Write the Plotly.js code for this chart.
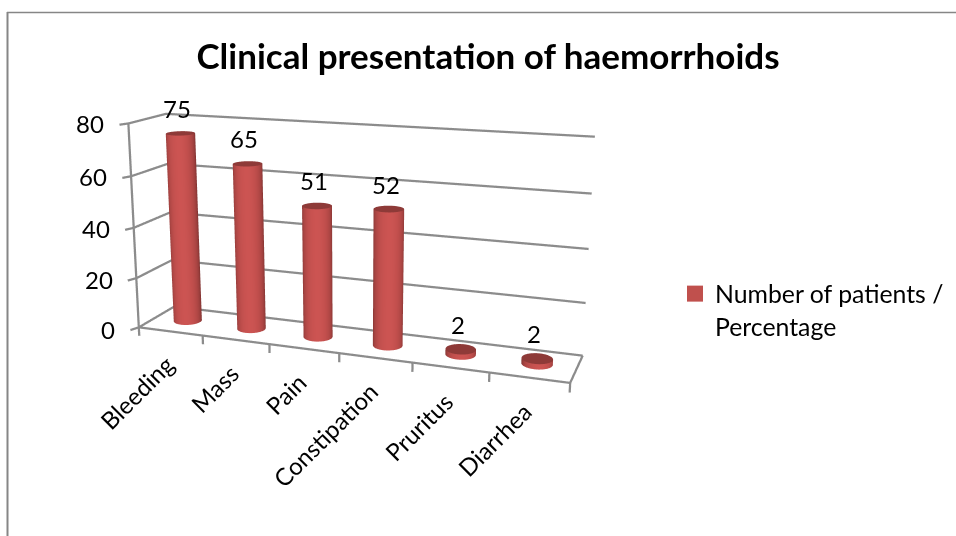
<!DOCTYPE html>
<html>
<head>
<meta charset="utf-8">
<script src="https://cdn.plot.ly/plotly-3.0.1.min.js"></script>
<style>
html,body{margin:0;padding:0;background:#fff;overflow:hidden;width:956px;height:536px}
#wrap{position:absolute;left:0;top:0;width:956px;height:536px;overflow:hidden}
#chart{position:absolute;left:0;top:-212px;width:956px;height:900px}
</style>
</head>
<body>
<div id="wrap"><div id="chart"></div></div>
<script>
const categories = ['Bleeding','Mass','Pain','Constipation','Pruritus','Diarrhea'];
const values = [75,65,51,52,2,2];
const seriesName = 'Number of patients /<br>Percentage';
const zTicks = [0,20,40,60,80];
const chartTitle = 'Clinical presentation of haemorrhoids';

const TOP = -212, H = 900, W = 956;
const px = x => x / W;
const py = y => 1 - (y - TOP) / H;

const FONT = 'Lato, Carlito, sans-serif';
const GRID = '#8c8c8c';
const xr = [-0.4, 6.4], yr = [-0.4, 1.4], zr = [-10, 90];
const worldW = 2, worldD = 0.3342, worldH = 0.9554;
const aspect = {
  x: worldW * (xr[1]-xr[0]) / 6,
  y: worldD * (yr[1]-yr[0]),
  z: worldH * (zr[1]-zr[0]) / 80
};
const camera = {eye:{x:1.5904,y:-4.336,z:1.1775}, center:{x:0,y:0,z:0}, up:{x:0,y:0,z:1}};

const rWorld = 0.066;
const rx = rWorld / (worldW/6), ry = rWorld / worldD;
const viewAngle = Math.atan2(camera.eye.y, camera.eye.x);

function mix(a,b,t){
  const c = a.map((v,i)=>Math.round(v+(b[i]-v)*t));
  return `rgb(${c[0]},${c[1]},${c[2]})`;
}
const DARK=[122,48,46], BRIGHT=[204,84,82], CAP=[142,58,56];

function cylinder(i, v){
  const n = 48, cx = i+0.5, cy = 0.5;
  const X=[],Y=[],Z=[],I=[],J=[],K=[],C=[];
  for(let k=0;k<=n;k++){
    const t = k/n*2*Math.PI;
    const s = Math.max(0, Math.cos(t - viewAngle));
    const col = mix(DARK, BRIGHT, Math.pow(s,0.8));
    X.push(cx+rx*Math.cos(t), cx+rx*Math.cos(t));
    Y.push(cy+ry*Math.sin(t), cy+ry*Math.sin(t));
    Z.push(0, v);
    C.push(col,col);
    if(k<n){
      const a=2*k,b=2*k+1,c=2*k+2,d=2*k+3;
      I.push(a,b); J.push(c,c); K.push(b,d);
    }
  }
  const base = X.length;
  X.push(cx); Y.push(cy); Z.push(v); C.push(mix(CAP,CAP,0));
  for(let k=0;k<=n;k++){
    const t=k/n*2*Math.PI;
    X.push(cx+rx*Math.cos(t)); Y.push(cy+ry*Math.sin(t)); Z.push(v); C.push(mix(CAP,CAP,0));
    if(k<n){ I.push(base); J.push(base+1+k); K.push(base+2+k); }
  }
  return {type:'mesh3d',x:X,y:Y,z:Z,i:I,j:J,k:K,vertexcolor:C,flatshading:false,
    lighting:{ambient:1,diffuse:0,specular:0,roughness:1,fresnel:0},
    hoverinfo:'skip',showlegend:false,showscale:false};
}

function polyline(pts){
  return {type:'scatter3d',mode:'lines',x:pts.map(p=>p[0]),y:pts.map(p=>p[1]),z:pts.map(p=>p[2]),
    line:{color:GRID,width:4.5},hoverinfo:'skip',showlegend:false};
}
const n = categories.length;
const traces = [];
zTicks.forEach(z=>{
  traces.push(polyline([[-0.05,-0.14,z],[0,0,z],[0,1,z],[n,1,z]]));
});
traces.push(polyline([[0,0,0],[0,0,zTicks[zTicks.length-1]]]));
traces.push(polyline([[0,0,0],[n,0,0],[n,1,0]]));
for(let i=0;i<=n;i++) traces.push(polyline([[i,0,0],[i,0,-3.5]]));
categories.forEach((c,i)=>traces.push(cylinder(i,values[i])));
traces.push({type:'scatter3d',mode:'markers',x:[null],y:[null],z:[null],name:seriesName,
  marker:{symbol:'square',color:'#c0504d',size:16},showlegend:true,hoverinfo:'skip'});

const sceneAnn = [];
values.forEach((v,i)=>sceneAnn.push({x:i+0.5,y:0.5,z:v,text:String(v),showarrow:false,
  xshift:-3,yshift:25,font:{family:FONT,size:24,color:'#000'}}));
categories.forEach((c,i)=>sceneAnn.push({x:i+0.5,y:0,z:-3.5,text:c,showarrow:false,textangle:-45,
  xanchor:'right',yanchor:'top',xshift:11,yshift:-7,font:{family:FONT,size:24,color:'#000'}}));
zTicks.forEach(z=>sceneAnn.push({x:-0.05,y:-0.14,z:z,text:String(z),showarrow:false,
  xanchor:'right',xshift:-13,yshift:1,font:{family:FONT,size:24,color:'#000'}}));

const hidden = r=>({visible:false,range:r,autorange:false,showspikes:false});
const layout = {
  width:W,height:H,autosize:false,
  margin:{l:0,r:0,t:0,b:0},
  paper_bgcolor:'#fff',
  title:{text:'<b>'+chartTitle+'</b>',x:px(488),xanchor:'center',y:py(57),yanchor:'middle',
    font:{family:FONT,size:35,color:'#000'}},
  scene:{domain:{x:[0,704.8/956],y:[0,1]},
    aspectmode:'manual',aspectratio:aspect,camera:camera,
    xaxis:hidden(xr),yaxis:hidden(yr),zaxis:hidden(zr),
    bgcolor:'rgba(0,0,0,0)',annotations:sceneAnn,dragmode:false},
  showlegend:true,
  legend:{x:px(675),y:py(271),xanchor:'left',yanchor:'top',valign:'top',bgcolor:'rgba(0,0,0,0)',
    font:{family:FONT,size:24.8,color:'#000'}},
  shapes:[
    {type:'line',xref:'paper',yref:'paper',x0:px(7.5),x1:px(7.5),y0:py(12),y1:py(536),line:{color:'#868686',width:2}},
    {type:'line',xref:'paper',yref:'paper',x0:px(7),x1:px(956),y0:py(12.5),y1:py(12.5),line:{color:'#868686',width:1.5}}
  ]
};
Plotly.newPlot('chart',traces,layout,{displayModeBar:false});
</script>
</body>
</html>
